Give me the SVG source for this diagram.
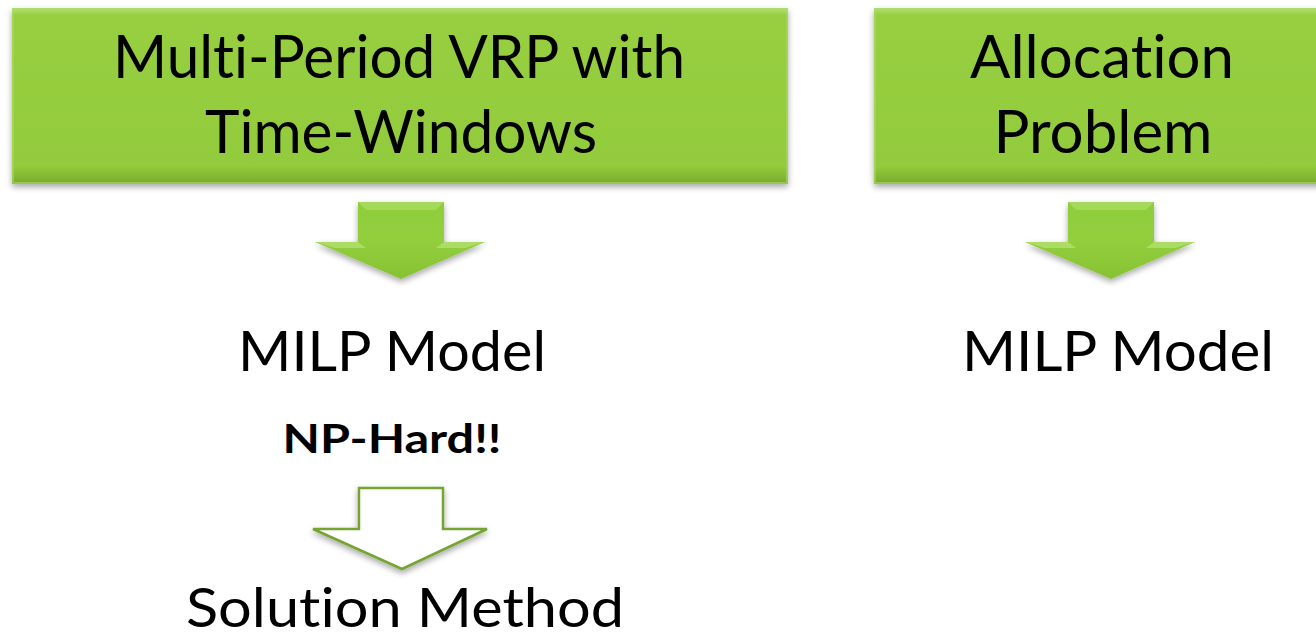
<svg xmlns="http://www.w3.org/2000/svg" width="1316" height="637" viewBox="0 0 1316 637">
<defs>
<style>
.t{font-family:Lato,"Open Sans","Liberation Sans",sans-serif;fill:#000;text-anchor:middle;font-variant-ligatures:none;font-feature-settings:"liga" 0,"clig" 0}
.big{font-size:60px}
.mid{font-size:57px}
.sm{font-size:55px}
.bold{font-size:40px;font-weight:bold}
.box{fill:url(#gbox)}
.arr{fill:url(#garr)}
.outl{fill:#fff;stroke:#76a431;stroke-width:2.5;stroke-linejoin:miter}
</style>
<linearGradient id="gbox" x1="0" y1="0" x2="0" y2="1">
<stop offset="0" stop-color="#b4e07a"/>
<stop offset="0.04" stop-color="#97cf41"/>
<stop offset="0.9" stop-color="#92cb3b"/>
<stop offset="1" stop-color="#78aa2b"/>
</linearGradient>
<linearGradient id="garr" x1="0" y1="0" x2="0" y2="1">
<stop offset="0" stop-color="#8fcd3a"/>
<stop offset="0.5" stop-color="#93ce3e"/>
<stop offset="1" stop-color="#86c232"/>
</linearGradient>
<filter id="sh" x="-10%" y="-10%" width="120%" height="130%">
<feGaussianBlur in="SourceAlpha" stdDeviation="3"/>
<feOffset dy="3"/>
<feComponentTransfer><feFuncA type="linear" slope="0.35"/></feComponentTransfer>
<feMerge><feMergeNode/><feMergeNode in="SourceGraphic"/></feMerge>
</filter>
</defs>
<g id="node-vrp">
<rect class="box" x="12" y="8" width="776" height="176" filter="url(#sh)"/>
<rect x="13" y="9" width="774" height="174" fill="none" stroke="#aadb66" stroke-width="2" opacity="0.6"/>
<text class="t big" x="399" y="78" textLength="572" lengthAdjust="spacingAndGlyphs">Multi-Period VRP with</text>
<text class="t big" x="401" y="153" textLength="392" lengthAdjust="spacingAndGlyphs">Time-Windows</text>
</g>
<g id="node-alloc">
<rect class="box" x="874" y="8" width="460" height="176" filter="url(#sh)"/>
<rect x="875" y="9" width="460" height="174" fill="none" stroke="#aadb66" stroke-width="2" opacity="0.6"/>
<text class="t big" x="1102" y="78" textLength="264" lengthAdjust="spacingAndGlyphs">Allocation</text>
<text class="t big" x="1103" y="153" textLength="219" lengthAdjust="spacingAndGlyphs">Problem</text>
</g>
<g id="node-milp1">
<text class="t mid" x="392" y="371" textLength="308" lengthAdjust="spacingAndGlyphs">MILP Model</text>
</g>
<g id="node-nphard">
<text class="t bold" x="392" y="453" textLength="219" lengthAdjust="spacingAndGlyphs">NP-Hard!!</text>
</g>
<g id="node-solution">
<text class="t sm" x="405" y="627" textLength="438" lengthAdjust="spacingAndGlyphs">Solution Method</text>
</g>
<g id="node-milp2">
<text class="t mid" x="1118" y="371" textLength="312" lengthAdjust="spacingAndGlyphs">MILP Model</text>
</g>
<g id="connectors">
<g filter="url(#sh)">
<path class="arr" d="M358,202 H444 V242 H485 L401,279 L315,242 H358 Z"/>
</g>
<path d="M358,202 H444 L436,210 H366 Z" fill="#a9dc64" opacity="0.8"/>
<path d="M315,242 H358 L366,248 H335 Z" fill="#b2e070" opacity="0.8"/>
<path d="M444,242 H485 L465,248 H436 Z" fill="#b2e070" opacity="0.8"/>
<g filter="url(#sh)">
<path class="arr" d="M1068,202 H1154 V242 H1195 L1111,279 L1025,242 H1068 Z"/>
</g>
<path d="M1068,202 H1154 L1146,210 H1076 Z" fill="#a9dc64" opacity="0.8"/>
<path d="M1025,242 H1068 L1076,248 H1045 Z" fill="#b2e070" opacity="0.8"/>
<path d="M1154,242 H1195 L1175,248 H1146 Z" fill="#b2e070" opacity="0.8"/>
<g filter="url(#sh)">
<path class="outl" d="M359,488 H443 V529 H487 L402,569 L313,529 H359 Z"/>
</g>
</g>
</svg>
